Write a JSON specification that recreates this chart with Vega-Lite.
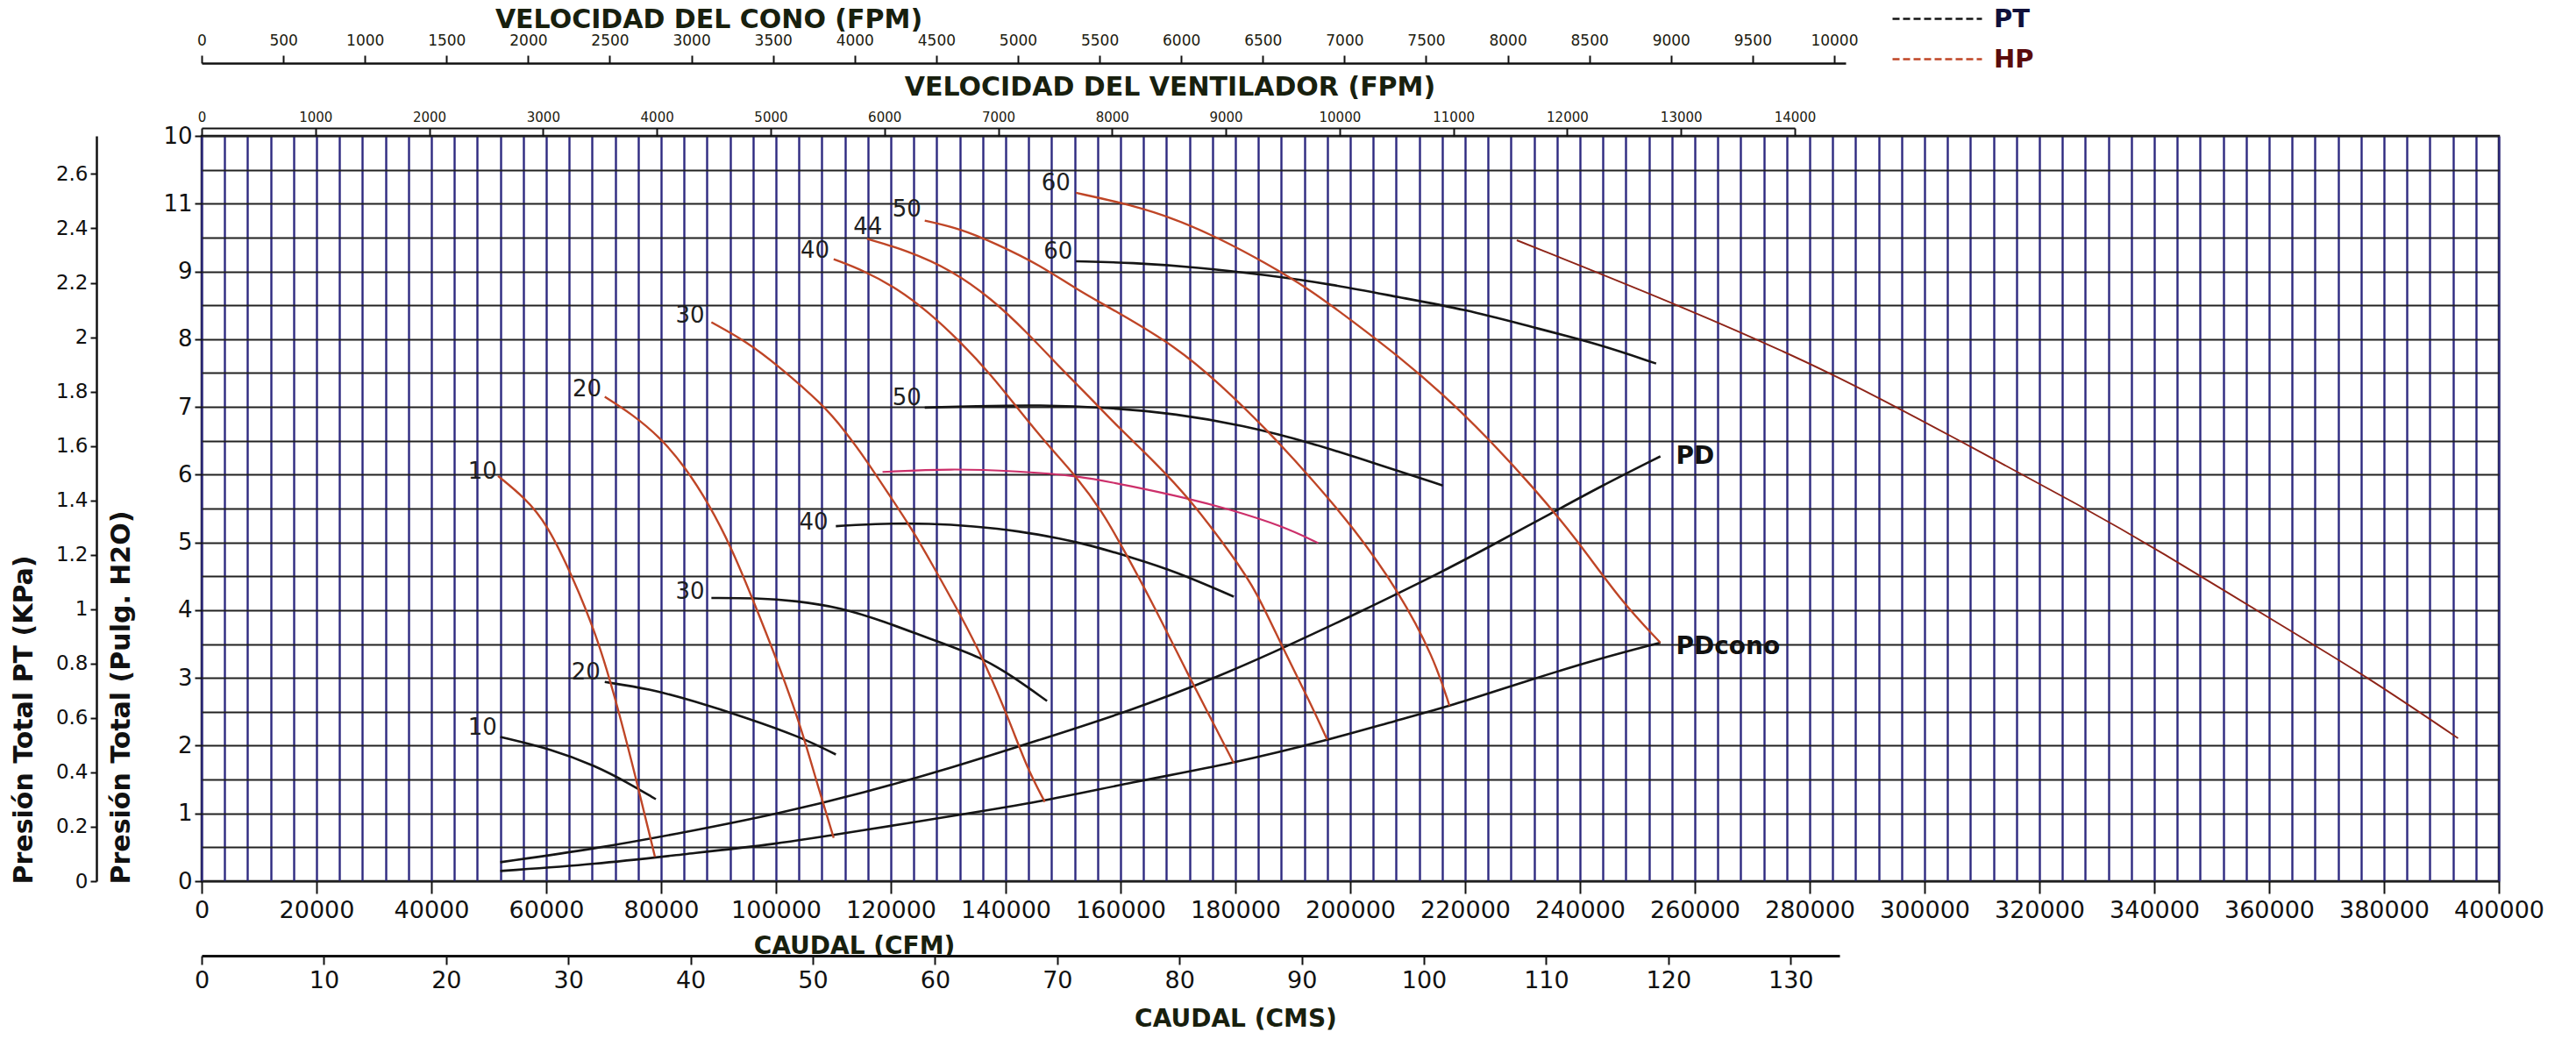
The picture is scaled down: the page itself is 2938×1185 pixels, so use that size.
{
"$schema": "https://vega.github.io/schema/vega-lite/v6.json",
"width": 2620, "height": 850,
"autosize": {"type": "none"},
"padding": {"left": 230, "top": 155, "right": 88, "bottom": 180},
"background": "white",
"config": {"view": {"stroke": "#111", "strokeWidth": 2.5}, "font": "DejaVu Sans"},
"datasets": {
"curvas": [
{"serie":"PT10","tipo":"PT","cfm":52000,"pulg":2.13},{"serie":"PT10","tipo":"PT","cfm":60900,"pulg":1.95},{"serie":"PT10","tipo":"PT","cfm":68640,"pulg":1.70},{"serie":"PT10","tipo":"PT","cfm":74060,"pulg":1.46},{"serie":"PT10","tipo":"PT","cfm":79090,"pulg":1.21},
{"serie":"PT20","tipo":"PT","cfm":70190,"pulg":2.94},{"serie":"PT20","tipo":"PT","cfm":77930,"pulg":2.84},{"serie":"PT20","tipo":"PT","cfm":85670,"pulg":2.66},{"serie":"PT20","tipo":"PT","cfm":94950,"pulg":2.41},{"serie":"PT20","tipo":"PT","cfm":104240,"pulg":2.13},{"serie":"PT20","tipo":"PT","cfm":110430,"pulg":1.87},
{"serie":"PT30","tipo":"PT","cfm":88760,"pulg":4.18},{"serie":"PT30","tipo":"PT","cfm":96500,"pulg":4.18},{"serie":"PT30","tipo":"PT","cfm":103470,"pulg":4.14},{"serie":"PT30","tipo":"PT","cfm":111210,"pulg":4.04},{"serie":"PT30","tipo":"PT","cfm":118950,"pulg":3.83},{"serie":"PT30","tipo":"PT","cfm":126690,"pulg":3.58},{"serie":"PT30","tipo":"PT","cfm":135980,"pulg":3.30},{"serie":"PT30","tipo":"PT","cfm":141400,"pulg":3.01},{"serie":"PT30","tipo":"PT","cfm":147200,"pulg":2.66},
{"serie":"PT40","tipo":"PT","cfm":110430,"pulg":5.24},{"serie":"PT40","tipo":"PT","cfm":118950,"pulg":5.28},{"serie":"PT40","tipo":"PT","cfm":126690,"pulg":5.28},{"serie":"PT40","tipo":"PT","cfm":134430,"pulg":5.24},{"serie":"PT40","tipo":"PT","cfm":142170,"pulg":5.17},{"serie":"PT40","tipo":"PT","cfm":149910,"pulg":5.05},{"serie":"PT40","tipo":"PT","cfm":154190,"pulg":4.97},{"serie":"PT40","tipo":"PT","cfm":161930,"pulg":4.78},{"serie":"PT40","tipo":"PT","cfm":169670,"pulg":4.57},{"serie":"PT40","tipo":"PT","cfm":179730,"pulg":4.20},
{"serie":"PT50","tipo":"PT","cfm":125910,"pulg":6.99},{"serie":"PT50","tipo":"PT","cfm":134430,"pulg":7.01},{"serie":"PT50","tipo":"PT","cfm":146040,"pulg":7.03},{"serie":"PT50","tipo":"PT","cfm":158060,"pulg":6.99},{"serie":"PT50","tipo":"PT","cfm":169670,"pulg":6.90},{"serie":"PT50","tipo":"PT","cfm":181280,"pulg":6.73},{"serie":"PT50","tipo":"PT","cfm":192890,"pulg":6.48},{"serie":"PT50","tipo":"PT","cfm":204500,"pulg":6.16},{"serie":"PT50","tipo":"PT","cfm":216110,"pulg":5.84},
{"serie":"PT60","tipo":"PT","cfm":152230,"pulg":9.15},{"serie":"PT60","tipo":"PT","cfm":161930,"pulg":9.13},{"serie":"PT60","tipo":"PT","cfm":173540,"pulg":9.06},{"serie":"PT60","tipo":"PT","cfm":185150,"pulg":8.95},{"serie":"PT60","tipo":"PT","cfm":196760,"pulg":8.81},{"serie":"PT60","tipo":"PT","cfm":208370,"pulg":8.62},{"serie":"PT60","tipo":"PT","cfm":219980,"pulg":8.44},{"serie":"PT60","tipo":"PT","cfm":231590,"pulg":8.18},{"serie":"PT60","tipo":"PT","cfm":243200,"pulg":7.93},{"serie":"PT60","tipo":"PT","cfm":253260,"pulg":7.64},
{"serie":"PT44","tipo":"PTrosa","cfm":118560,"pulg":6.04},{"serie":"PT44","tipo":"PTrosa","cfm":130560,"pulg":6.09},{"serie":"PT44","tipo":"PTrosa","cfm":142170,"pulg":6.05},{"serie":"PT44","tipo":"PTrosa","cfm":152230,"pulg":5.99},{"serie":"PT44","tipo":"PTrosa","cfm":161930,"pulg":5.83},{"serie":"PT44","tipo":"PTrosa","cfm":171220,"pulg":5.66},{"serie":"PT44","tipo":"PTrosa","cfm":178960,"pulg":5.49},{"serie":"PT44","tipo":"PTrosa","cfm":188250,"pulg":5.24},{"serie":"PT44","tipo":"PTrosa","cfm":194440,"pulg":4.99},
{"serie":"PD","tipo":"PT","cfm":52000,"pulg":0.28},{"serie":"PD","tipo":"PT","cfm":68640,"pulg":0.48},{"serie":"PD","tipo":"PT","cfm":84120,"pulg":0.72},{"serie":"PD","tipo":"PT","cfm":101150,"pulg":1.01},{"serie":"PD","tipo":"PT","cfm":115080,"pulg":1.30},{"serie":"PD","tipo":"PT","cfm":130560,"pulg":1.67},{"serie":"PD","tipo":"PT","cfm":146040,"pulg":2.09},{"serie":"PD","tipo":"PT","cfm":161930,"pulg":2.52},{"serie":"PD","tipo":"PT","cfm":177410,"pulg":3.03},{"serie":"PD","tipo":"PT","cfm":189020,"pulg":3.47},{"serie":"PD","tipo":"PT","cfm":200630,"pulg":3.93},{"serie":"PD","tipo":"PT","cfm":216110,"pulg":4.57},{"serie":"PD","tipo":"PT","cfm":223850,"pulg":4.92},{"serie":"PD","tipo":"PT","cfm":235460,"pulg":5.45},{"serie":"PD","tipo":"PT","cfm":243200,"pulg":5.81},{"serie":"PD","tipo":"PT","cfm":254000,"pulg":6.27},
{"serie":"PDcono","tipo":"PT","cfm":52000,"pulg":0.15},{"serie":"PDcono","tipo":"PT","cfm":68640,"pulg":0.25},{"serie":"PDcono","tipo":"PT","cfm":84120,"pulg":0.40},{"serie":"PDcono","tipo":"PT","cfm":99600,"pulg":0.54},{"serie":"PDcono","tipo":"PT","cfm":115080,"pulg":0.75},{"serie":"PDcono","tipo":"PT","cfm":130560,"pulg":0.96},{"serie":"PDcono","tipo":"PT","cfm":146040,"pulg":1.17},{"serie":"PDcono","tipo":"PT","cfm":161930,"pulg":1.46},{"serie":"PDcono","tipo":"PT","cfm":179730,"pulg":1.74},{"serie":"PDcono","tipo":"PT","cfm":195990,"pulg":2.08},{"serie":"PDcono","tipo":"PT","cfm":208370,"pulg":2.38},{"serie":"PDcono","tipo":"PT","cfm":217270,"pulg":2.58},{"serie":"PDcono","tipo":"PT","cfm":231590,"pulg":2.98},{"serie":"PDcono","tipo":"PT","cfm":243200,"pulg":3.28},{"serie":"PDcono","tipo":"PT","cfm":254000,"pulg":3.52},
{"serie":"HP10","tipo":"HP","cfm":51600,"pulg":5.98},{"serie":"HP10","tipo":"HP","cfm":56250,"pulg":5.66},{"serie":"HP10","tipo":"HP","cfm":60100,"pulg":5.28},{"serie":"HP10","tipo":"HP","cfm":64770,"pulg":4.46},{"serie":"HP10","tipo":"HP","cfm":68640,"pulg":3.65},{"serie":"HP10","tipo":"HP","cfm":71730,"pulg":2.80},{"serie":"HP10","tipo":"HP","cfm":75600,"pulg":1.53},{"serie":"HP10","tipo":"HP","cfm":78930,"pulg":0.36},
{"serie":"HP20","tipo":"HP","cfm":70190,"pulg":7.15},{"serie":"HP20","tipo":"HP","cfm":74830,"pulg":6.90},{"serie":"HP20","tipo":"HP","cfm":79860,"pulg":6.55},{"serie":"HP20","tipo":"HP","cfm":84120,"pulg":6.12},{"serie":"HP20","tipo":"HP","cfm":88380,"pulg":5.56},{"serie":"HP20","tipo":"HP","cfm":92250,"pulg":4.92},{"serie":"HP20","tipo":"HP","cfm":95730,"pulg":4.21},{"serie":"HP20","tipo":"HP","cfm":100370,"pulg":3.22},{"serie":"HP20","tipo":"HP","cfm":104240,"pulg":2.31},{"serie":"HP20","tipo":"HP","cfm":107340,"pulg":1.39},{"serie":"HP20","tipo":"HP","cfm":110050,"pulg":0.64},
{"serie":"HP30","tipo":"HP","cfm":88760,"pulg":8.25},{"serie":"HP30","tipo":"HP","cfm":94950,"pulg":7.96},{"serie":"HP30","tipo":"HP","cfm":100370,"pulg":7.61},{"serie":"HP30","tipo":"HP","cfm":108110,"pulg":7.04},{"serie":"HP30","tipo":"HP","cfm":111980,"pulg":6.65},{"serie":"HP30","tipo":"HP","cfm":115850,"pulg":6.20},{"serie":"HP30","tipo":"HP","cfm":119720,"pulg":5.70},{"serie":"HP30","tipo":"HP","cfm":123590,"pulg":5.21},{"serie":"HP30","tipo":"HP","cfm":127460,"pulg":4.64},{"serie":"HP30","tipo":"HP","cfm":132110,"pulg":3.93},{"serie":"HP30","tipo":"HP","cfm":135980,"pulg":3.30},{"serie":"HP30","tipo":"HP","cfm":140620,"pulg":2.38},{"serie":"HP30","tipo":"HP","cfm":143720,"pulg":1.67},{"serie":"HP30","tipo":"HP","cfm":146810,"pulg":1.17},
{"serie":"HP40","tipo":"HP","cfm":110050,"pulg":9.18},{"serie":"HP40","tipo":"HP","cfm":115080,"pulg":9.02},{"serie":"HP40","tipo":"HP","cfm":121270,"pulg":8.74},{"serie":"HP40","tipo":"HP","cfm":126690,"pulg":8.39},{"serie":"HP40","tipo":"HP","cfm":132110,"pulg":7.96},{"serie":"HP40","tipo":"HP","cfm":137520,"pulg":7.47},{"serie":"HP40","tipo":"HP","cfm":142170,"pulg":6.97},{"serie":"HP40","tipo":"HP","cfm":147590,"pulg":6.41},{"serie":"HP40","tipo":"HP","cfm":152230,"pulg":5.98},{"serie":"HP40","tipo":"HP","cfm":156870,"pulg":5.45},{"serie":"HP40","tipo":"HP","cfm":160380,"pulg":4.92},{"serie":"HP40","tipo":"HP","cfm":165800,"pulg":4.07},{"serie":"HP40","tipo":"HP","cfm":171990,"pulg":3.01},{"serie":"HP40","tipo":"HP","cfm":175860,"pulg":2.38},{"serie":"HP40","tipo":"HP","cfm":179730,"pulg":1.74},
{"serie":"HP44","tipo":"HP","cfm":115850,"pulg":9.48},{"serie":"HP44","tipo":"HP","cfm":122820,"pulg":9.31},{"serie":"HP44","tipo":"HP","cfm":130560,"pulg":9.02},{"serie":"HP44","tipo":"HP","cfm":137520,"pulg":8.60},{"serie":"HP44","tipo":"HP","cfm":143720,"pulg":8.10},{"serie":"HP44","tipo":"HP","cfm":149130,"pulg":7.61},{"serie":"HP44","tipo":"HP","cfm":154550,"pulg":7.15},{"serie":"HP44","tipo":"HP","cfm":159610,"pulg":6.70},{"serie":"HP44","tipo":"HP","cfm":165800,"pulg":6.20},{"serie":"HP44","tipo":"HP","cfm":171990,"pulg":5.65},{"serie":"HP44","tipo":"HP","cfm":179730,"pulg":4.78},{"serie":"HP44","tipo":"HP","cfm":183600,"pulg":4.29},{"serie":"HP44","tipo":"HP","cfm":188250,"pulg":3.44},{"serie":"HP44","tipo":"HP","cfm":192890,"pulg":2.66},{"serie":"HP44","tipo":"HP","cfm":195990,"pulg":2.09},
{"serie":"HP50","tipo":"HP","cfm":125910,"pulg":9.75},{"serie":"HP50","tipo":"HP","cfm":132110,"pulg":9.63},{"serie":"HP50","tipo":"HP","cfm":138300,"pulg":9.41},{"serie":"HP50","tipo":"HP","cfm":146040,"pulg":9.09},{"serie":"HP50","tipo":"HP","cfm":152230,"pulg":8.74},{"serie":"HP50","tipo":"HP","cfm":159040,"pulg":8.42},{"serie":"HP50","tipo":"HP","cfm":169670,"pulg":7.89},{"serie":"HP50","tipo":"HP","cfm":177410,"pulg":7.33},{"serie":"HP50","tipo":"HP","cfm":185150,"pulg":6.69},{"serie":"HP50","tipo":"HP","cfm":192890,"pulg":5.98},{"serie":"HP50","tipo":"HP","cfm":200630,"pulg":5.21},{"serie":"HP50","tipo":"HP","cfm":208370,"pulg":4.29},{"serie":"HP50","tipo":"HP","cfm":214560,"pulg":3.30},{"serie":"HP50","tipo":"HP","cfm":217270,"pulg":2.59},
{"serie":"HP60","tipo":"HP","cfm":152230,"pulg":10.16},{"serie":"HP60","tipo":"HP","cfm":161930,"pulg":9.98},{"serie":"HP60","tipo":"HP","cfm":169670,"pulg":9.77},{"serie":"HP60","tipo":"HP","cfm":177410,"pulg":9.48},{"serie":"HP60","tipo":"HP","cfm":185150,"pulg":9.13},{"serie":"HP60","tipo":"HP","cfm":192890,"pulg":8.74},{"serie":"HP60","tipo":"HP","cfm":200630,"pulg":8.25},{"serie":"HP60","tipo":"HP","cfm":208370,"pulg":7.75},{"serie":"HP60","tipo":"HP","cfm":216110,"pulg":7.19},{"serie":"HP60","tipo":"HP","cfm":223850,"pulg":6.55},{"serie":"HP60","tipo":"HP","cfm":231590,"pulg":5.84},{"serie":"HP60","tipo":"HP","cfm":239330,"pulg":5.06},{"serie":"HP60","tipo":"HP","cfm":247070,"pulg":4.14},{"serie":"HP60","tipo":"HP","cfm":254000,"pulg":3.52},
{"serie":"HPmax","tipo":"HPlinea","cfm":229000,"pulg":9.46},{"serie":"HPmax","tipo":"HPlinea","cfm":258500,"pulg":8.46},{"serie":"HPmax","tipo":"HPlinea","cfm":284100,"pulg":7.50},{"serie":"HPmax","tipo":"HPlinea","cfm":305000,"pulg":6.55},{"serie":"HPmax","tipo":"HPlinea","cfm":328300,"pulg":5.49},{"serie":"HPmax","tipo":"HPlinea","cfm":340000,"pulg":4.92},{"serie":"HPmax","tipo":"HPlinea","cfm":363200,"pulg":3.72},{"serie":"HPmax","tipo":"HPlinea","cfm":377200,"pulg":3.01},{"serie":"HPmax","tipo":"HPlinea","cfm":392900,"pulg":2.11}
],
"etiquetas": [
{"texto":"10","cfm":48900,"pulg":6.05},{"texto":"20","cfm":67090,"pulg":7.26},{"texto":"30","cfm":85050,"pulg":8.35},{"texto":"40","cfm":106800,"pulg":9.31},{"texto":"44","cfm":116000,"pulg":9.66},{"texto":"50","cfm":122800,"pulg":9.91},{"texto":"60","cfm":148750,"pulg":10.30},
{"texto":"10","cfm":48900,"pulg":2.27},{"texto":"20","cfm":66900,"pulg":3.08},{"texto":"30","cfm":85050,"pulg":4.27},{"texto":"40","cfm":106560,"pulg":5.29},{"texto":"50","cfm":122800,"pulg":7.13},{"texto":"60","cfm":149130,"pulg":9.29}
],
"rotulos": [
{"texto":"PD","cfm":256700,"pulg":6.26},{"texto":"PDcono","cfm":256700,"pulg":3.46}
]
},
"layer": [
{
"layer": [
{
"data": {"name": "curvas"},
"mark": {"type": "line", "interpolate": "basis"},
"encoding": {
"x": {"field": "cfm", "type": "quantitative", "scale": {"domain": [0, 400000], "nice": false, "zero": false},
 "axis": {"orient": "bottom", "tickCount": 400,
 "values": [0,4000,8000,12000,16000,20000,24000,28000,32000,36000,40000,44000,48000,52000,56000,60000,64000,68000,72000,76000,80000,84000,88000,92000,96000,100000,104000,108000,112000,116000,120000,124000,128000,132000,136000,140000,144000,148000,152000,156000,160000,164000,168000,172000,176000,180000,184000,188000,192000,196000,200000,204000,208000,212000,216000,220000,224000,228000,232000,236000,240000,244000,248000,252000,256000,260000,264000,268000,272000,276000,280000,284000,288000,292000,296000,300000,304000,308000,312000,316000,320000,324000,328000,332000,336000,340000,344000,348000,352000,356000,360000,364000,368000,372000,376000,380000,384000,388000,392000,396000,400000],
 "grid": true, "gridColor": "#2e2a80", "gridWidth": 2.4, "gridOpacity": 1,
 "domain": false, "tickSize": 14, "tickColor": "#111", "tickWidth": 2,
 "tickOpacity": {"condition": {"test": "datum.value % 20000 == 0", "value": 1}, "value": 0},
 "labelExpr": "datum.value % 20000 == 0 ? format(datum.value, 'd') : ''",
 "labelFont": "DejaVu Sans", "labelFontSize": 27, "labelColor": "#111", "labelPadding": 6,
 "labelOverlap": false, "labelFlush": false, "labelBound": false,
 "title": "CAUDAL (CFM)", "titleFont": "DejaVu Sans", "titleFontWeight": "bold", "titleFontSize": 28, "titleColor": "#18200e",
 "titleX": 744, "titleY": 74, "titleAlign": "center", "titleBaseline": "middle"}},
"y": {"field": "pulg", "type": "quantitative", "scale": {"domain": [0, 11], "nice": false, "zero": false},
 "axis": {"orient": "left", "tickCount": 200,
 "values": [0,0.5,1,1.5,2,2.5,3,3.5,4,4.5,5,5.5,6,6.5,7,7.5,8,8.5,9,9.5,10,10.5,11],
 "grid": true, "gridColor": "#222222", "gridWidth": 2.2, "gridOpacity": 1,
 "domain": false, "tickSize": 8, "tickColor": "#111", "tickWidth": 2,
 "tickOpacity": {"condition": {"test": "datum.value % 1 == 0", "value": 1}, "value": 0},
 "labelExpr": "datum.value == 11 ? '10' : datum.value == 10 ? '11' : (datum.value % 1 == 0 ? format(datum.value, 'd') : '')",
 "labelFont": "DejaVu Sans", "labelFontSize": 26, "labelColor": "#111", "labelPadding": 3,
 "labelOverlap": false, "labelFlush": false, "labelBound": false,
 "title": "Presión Total (Pulg. H2O)", "titleFont": "DejaVu Sans", "titleFontWeight": "bold", "titleFontSize": 30, "titleColor": "#111",
 "titleAngle": 270, "titleX": -92, "titleY": 853, "titleAlign": "left", "titleBaseline": "middle"}},
"detail": {"field": "serie"},
"color": {"field": "tipo", "type": "nominal",
 "scale": {"domain": ["PT", "HP", "PTrosa", "HPlinea"], "range": ["#151515", "#bf4526", "#cc2f6a", "#8e2418"]},
 "legend": {"values": ["PT", "HP"], "orient": "none", "legendX": 1927, "legendY": -152, "title": null,
  "direction": "vertical", "symbolType": "M-1,0L5,0", "symbolSize": 1156, "symbolStrokeWidth": 4, "symbolDash": [8, 4],
  "labelColor": {"expr": "datum.label == 'HP' ? '#5a0c0c' : '#10103a'"},
  "labelFont": "DejaVu Sans", "labelFontSize": 29, "labelFontWeight": "bold", "labelOffset": 80, "rowPadding": 12,
  "encode": {"symbols": {"update": {"stroke": {"signal": "datum.value == 'HP' ? '#5a0c0c' : '#10103a'"}}}}}},
"strokeWidth": {"field": "tipo", "type": "nominal", "scale": {"domain": ["PT", "HP", "PTrosa", "HPlinea"], "range": [2.6, 1.9, 2.2, 2]}, "legend": null}
}
},
{
"data": {"name": "etiquetas"},
"mark": {"type": "text", "font": "DejaVu Sans", "fontSize": 26, "color": "#1e1e1e", "align": "center", "baseline": "middle"},
"encoding": {"x": {"field": "cfm", "type": "quantitative"}, "y": {"field": "pulg", "type": "quantitative"}, "text": {"field": "texto"}}
},
{
"data": {"name": "rotulos"},
"mark": {"type": "text", "font": "DejaVu Sans", "fontSize": 28, "fontWeight": "bold", "color": "#111", "align": "left", "baseline": "middle"},
"encoding": {"x": {"field": "cfm", "type": "quantitative"}, "y": {"field": "pulg", "type": "quantitative"}, "text": {"field": "texto"}}
}
]
},
{
"data": {"values": [{"kpa": 0}, {"kpa": 2.74}]},
"mark": {"type": "point", "opacity": 0},
"encoding": {"y": {"field": "kpa", "type": "quantitative", "scale": {"domain": [0, 2.74], "nice": false, "zero": false},
 "axis": {"orient": "left", "offset": 120, "tickCount": 100, "values": [0,0.2,0.4,0.6,0.8,1,1.2,1.4,1.6,1.8,2,2.2,2.4,2.6], "format": "~g",
 "grid": false, "domain": true, "domainColor": "#111", "domainWidth": 2.5, "tickSize": 7, "tickColor": "#111", "tickWidth": 2,
 "labelFont": "DejaVu Sans", "labelFontSize": 23, "labelColor": "#111", "labelPadding": 3, "labelOverlap": false, "labelFlush": false, "labelBound": false,
 "title": "Presión Total PT (KPa)", "titleFont": "DejaVu Sans", "titleFontWeight": "bold", "titleFontSize": 30, "titleColor": "#111",
 "titleAngle": 270, "titleX": -83, "titleY": 853, "titleAlign": "left", "titleBaseline": "middle"}}}
},
{
"data": {"values": [{"cms": 0}, {"cms": 130}]},
"mark": {"type": "point", "opacity": 0},
"encoding": {"x": {"field": "cms", "type": "quantitative", "scale": {"domain": [0, 134], "range": [0, 1868], "nice": false, "zero": false},
 "axis": {"orient": "bottom", "offset": 85, "tickCount": 100, "values": [0,10,20,30,40,50,60,70,80,90,100,110,120,130], "format": "d",
 "grid": false, "domain": true, "domainColor": "#111", "domainWidth": 3, "tickSize": 10, "tickColor": "#111", "tickWidth": 2,
 "labelFont": "DejaVu Sans", "labelFontSize": 27, "labelColor": "#111", "labelPadding": 5, "labelOverlap": false, "labelFlush": false, "labelBound": false,
 "title": "CAUDAL (CMS)", "titleFont": "DejaVu Sans", "titleFontWeight": "bold", "titleFontSize": 28, "titleColor": "#18200e",
 "titleX": 1179, "titleY": 72, "titleAlign": "center", "titleBaseline": "middle"}}}
},
{
"data": {"values": [{"fpm": 0}, {"fpm": 14000}]},
"mark": {"type": "point", "opacity": 0},
"encoding": {"x": {"field": "fpm", "type": "quantitative", "scale": {"domain": [0, 14000], "range": [0, 1817], "nice": false, "zero": false},
 "axis": {"orient": "top", "offset": 9, "tickCount": 100, "values": [0,1000,2000,3000,4000,5000,6000,7000,8000,9000,10000,11000,12000,13000,14000], "format": "d",
 "grid": false, "domain": true, "domainColor": "#111", "domainWidth": 2, "tickSize": -9, "tickColor": "#111", "tickWidth": 2,
 "labelFont": "DejaVu Sans", "labelFontSize": 15, "labelColor": "#1c2010", "labelPadding": 14, "labelOverlap": false, "labelFlush": false, "labelBound": false,
 "title": "VELOCIDAD DEL VENTILADOR (FPM)", "titleFont": "DejaVu Sans", "titleFontWeight": "bold", "titleFontSize": 30, "titleColor": "#18200e",
 "titleX": 1104, "titleY": -47, "titleAlign": "center", "titleBaseline": "middle"}}}
},
{
"data": {"values": [{"fpmc": 0}, {"fpmc": 10000}]},
"mark": {"type": "point", "opacity": 0},
"encoding": {"x": {"field": "fpmc", "type": "quantitative", "scale": {"domain": [0, 10070], "range": [0, 1875], "nice": false, "zero": false},
 "axis": {"orient": "top", "offset": 83, "tickCount": 100, "values": [0,500,1000,1500,2000,2500,3000,3500,4000,4500,5000,5500,6000,6500,7000,7500,8000,8500,9000,9500,10000], "format": "d",
 "grid": false, "domain": true, "domainColor": "#111", "domainWidth": 2.5, "tickSize": 9, "tickColor": "#111", "tickWidth": 2,
 "labelFont": "DejaVu Sans", "labelFontSize": 17, "labelColor": "#1c2010", "labelPadding": 8, "labelOverlap": false, "labelFlush": false, "labelBound": false,
 "title": "VELOCIDAD DEL CONO (FPM)", "titleFont": "DejaVu Sans", "titleFontWeight": "bold", "titleFontSize": 30, "titleColor": "#18200e",
 "titleX": 578, "titleY": -50, "titleAlign": "center", "titleBaseline": "middle"}}}
}
],
"resolve": {"scale": {"x": "independent", "y": "independent"}}
}
